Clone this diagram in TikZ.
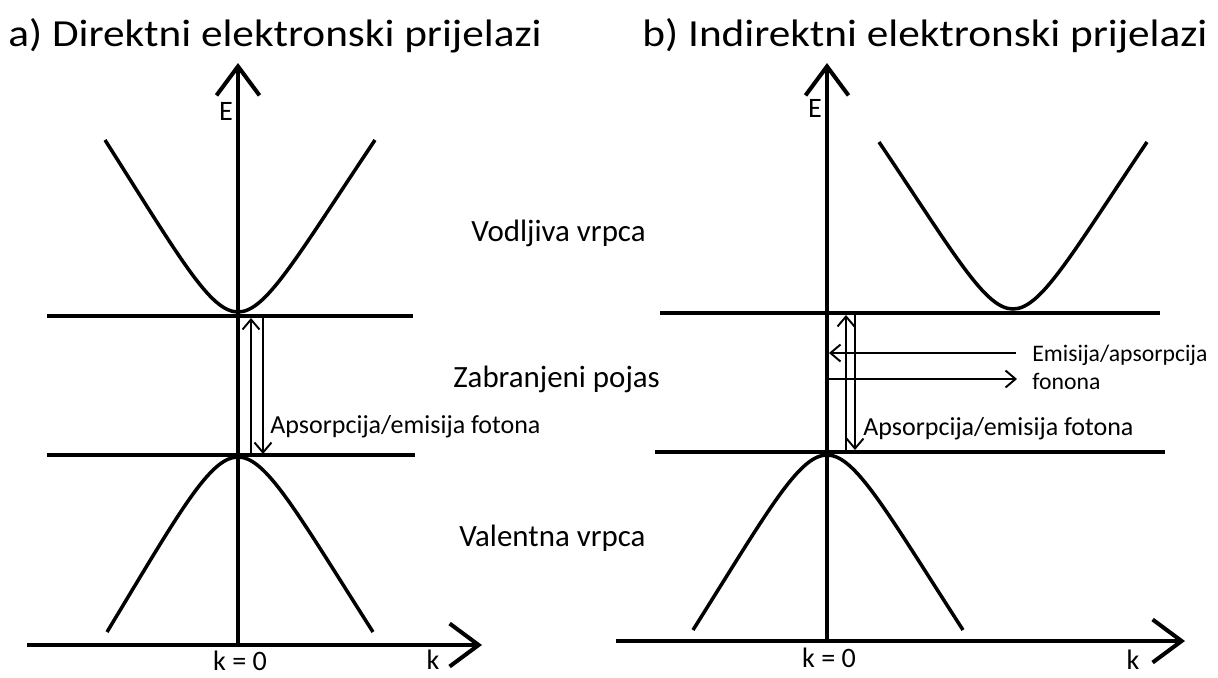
\documentclass[tikz,border=0pt]{standalone}
\usepackage{fontspec}
\setmainfont{Carlito}
\newfontfamily\titlefont{Carlito}[FakeStretch=1.13]
\usetikzlibrary{arrows.meta}
\tikzset{
  axis/.style={line width=2.3pt, -{Straight Barb[length=0.58cm,width=0.86cm]}},
  band/.style={line width=2.3pt},
  curve/.style={line width=2pt},
  trans/.style={line width=1.1pt, -{Straight Barb[length=0.2cm,width=0.34cm]}},
  title/.style={font=\titlefont\fontsize{21.8}{26}\selectfont, inner sep=0pt},
  region/.style={font=\fontsize{17.6}{21}\selectfont, inner sep=0pt},
  axlabel/.style={font=\fontsize{16}{19}\selectfont, inner sep=0pt},
  small/.style={font=\fontsize{14.8}{17}\selectfont, inner sep=0pt},
  smaller/.style={font=\fontsize{13.5}{16}\selectfont, inner sep=0pt},
}
\begin{document}
\begin{tikzpicture}[x=0.02cm,y=-0.02cm]
    \useasboundingbox (0,0) rectangle (1218,677);
    % a) direct transitions
    \node[title] (titleA) at (275,36) {a) Direktni elektronski prijelazi};
    \coordinate (originA) at (238,645);
    \coordinate (EtopA) at (238,63);
    \coordinate (kleftA) at (27,645);
    \coordinate (krightA) at (482,645);
    \draw[axis] (originA) -- (EtopA);
    \draw[axis] (kleftA) -- (krightA);
    \node[axlabel] (EA) at (226,111) {E};
    \node[axlabel] (kzeroA) at (240,661) {k = 0};
    \node[axlabel] (kA) at (433,660) {k};
    \coordinate (cbA1) at (47,316);
    \coordinate (cbA2) at (413,316);
    \coordinate (vbA1) at (47,455);
    \coordinate (vbA2) at (415,455);
    \draw[band] (cbA1) -- (cbA2);
    \draw[band] (vbA1) -- (vbA2);
    \coordinate (cminA) at (238,312);
    \coordinate (vmaxA) at (238,457);
    \draw[curve] (105,140) .. controls (180,258) and (210,312) .. (cminA)
        .. controls (266,312) and (296,258) .. (375,140);
    \draw[curve] (107,632) .. controls (180,511) and (210,457) .. (vmaxA)
        .. controls (266,457) and (296,511) .. (373,632);
    \coordinate (upA1) at (251,455);
    \coordinate (upA2) at (251,318);
    \coordinate (dnA1) at (263,317);
    \coordinate (dnA2) at (263,454);
    \draw[trans] (upA1) -- (upA2);
    \draw[trans] (dnA1) -- (dnA2);
    \node[small, anchor=west] (photonA) at (270,427) {Apsorpcija/emisija fotona};
    % band names
    \node[region, anchor=west] (cond) at (471,233) {Vodljiva vrpca};
    \node[region, anchor=west] (gap) at (453,379) {Zabranjeni pojas};
    \node[region, anchor=west] (val) at (459,538) {Valentna vrpca};
    % b) indirect transitions
    \node[title] (titleB) at (925,36) {b) Indirektni elektronski prijelazi};
    \coordinate (originB) at (827,641);
    \coordinate (EtopB) at (827,63);
    \coordinate (kleftB) at (616,641);
    \coordinate (krightB) at (1185,641);
    \draw[axis] (originB) -- (EtopB);
    \draw[axis] (kleftB) -- (krightB);
    \node[axlabel] (EB) at (815,108) {E};
    \node[axlabel] (kzeroB) at (829,658) {k = 0};
    \node[axlabel] (kB) at (1133,660) {k};
    \coordinate (cbB1) at (660,313);
    \coordinate (cbB2) at (1160,313);
    \coordinate (vbB1) at (655,452);
    \coordinate (vbB2) at (1165,452);
    \draw[band] (cbB1) -- (cbB2);
    \draw[band] (vbB1) -- (vbB2);
    \coordinate (cminB) at (1013,309);
    \coordinate (vmaxB) at (827,455);
    \draw[curve] (879,142) .. controls (955,255) and (985,309) .. (cminB)
        .. controls (1041,309) and (1071,255) .. (1147,142);
    \draw[curve] (693,630) .. controls (769,509) and (799,455) .. (vmaxB)
        .. controls (855,455) and (885,509) .. (963,630);
    \coordinate (upB1) at (846,452);
    \coordinate (upB2) at (846,315);
    \coordinate (dnB1) at (855,315);
    \coordinate (dnB2) at (855,450);
    \draw[trans] (upB1) -- (upB2);
    \draw[trans] (dnB1) -- (dnB2);
    \coordinate (phonon1) at (1016,353);
    \coordinate (phonon2) at (829,353);
    \coordinate (phonon3) at (829,379);
    \coordinate (phonon4) at (1017,379);
    \draw[trans] (phonon1) -- (phonon2);
    \draw[trans] (phonon3) -- (phonon4);
    \node[smaller, anchor=west] (phononL1) at (1032,355) {Emisija/apsorpcija};
    \node[smaller, anchor=west] (phononL2) at (1032,381) {fonona};
    \node[small, anchor=west] (photonB) at (863,429) {Apsorpcija/emisija fotona};
\end{tikzpicture}
\end{document}
